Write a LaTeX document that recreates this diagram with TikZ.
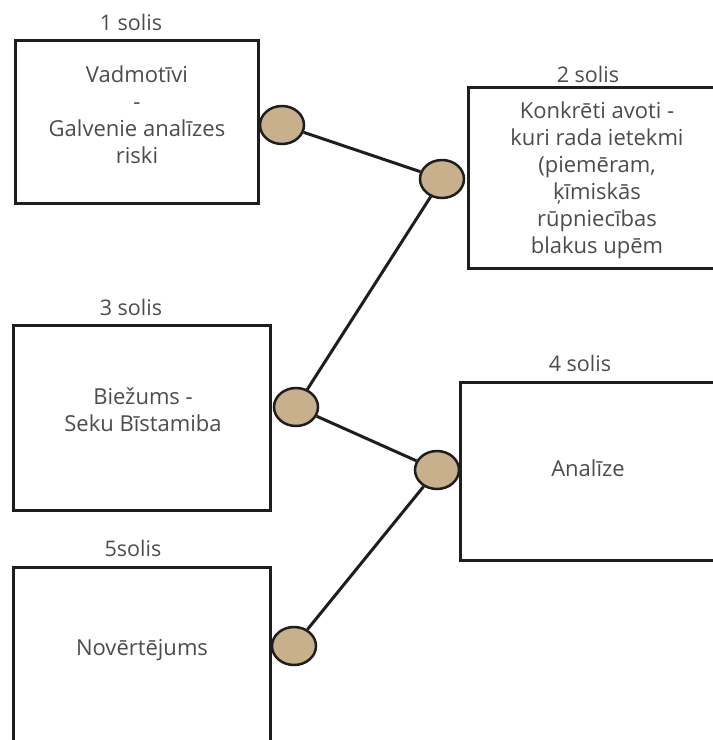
\documentclass[tikz,border=0pt]{standalone}
\usepackage{fontspec}
\setmainfont{Open Sans}
\usetikzlibrary{shapes.geometric}
\definecolor{txtgray}{HTML}{4C4C4C}
\definecolor{edge}{HTML}{1E1E1E}
\definecolor{joint}{HTML}{C8B08C}
\tikzset{
  stepbox/.style={draw=edge, line width=3pt, fill=white},
  steptext/.style={text=txtgray, align=center, inner sep=0pt,
    font=\fontsize{22}{27}\selectfont},
  steplabel/.style={text=txtgray, inner sep=0pt,
    font=\fontsize{21.5}{27}\selectfont},
  joint/.style={ellipse, draw=edge, line width=2.5pt, fill=joint,
    minimum width=44pt, minimum height=38pt, inner sep=0pt},
  link/.style={draw=edge, line width=3pt}
}
\begin{document}
\begin{tikzpicture}[x=1pt,y=-1pt]
  \useasboundingbox (0,0) rectangle (713,740);
  \clip (0,0) rectangle (713,740);
  \fill[white] (0,0) rectangle (713,740);

  % step boxes (the right-hand and bottom ones run off the page edge)
  \draw[stepbox] (15,40) rectangle (258,203);
  \draw[stepbox] (468,87) rectangle (720,268);
  \draw[stepbox] (13,325) rectangle (270,510);
  \draw[stepbox] (460,382) rectangle (720,560);
  \draw[stepbox] (13,567) rectangle (270,750);

  % step captions
  \node[steplabel] (l1) at (131,22) {1 solis};
  \node[steplabel] (l2) at (588,74) {2 solis};
  \node[steplabel] (l3) at (131,307) {3 solis};
  \node[steplabel] (l4) at (580,363) {4 solis};
  \node[steplabel] (l5) at (133,548) {5solis};

  % box contents
  \node[steptext] (t1) at (137,115) {Vadmotīvi\\-\\Galvenie analīzes\\riski};
  \node[steptext] (t2) at (597,180) {Konkrēti avoti -\\kuri rada ietekmi\\(piemēram,\\ķīmiskās\\rūpniecības\\blakus upēm};
  \node[steptext] (t3) at (143,410) {Biežums -\\Seku Bīstamiba};
  \node[steptext] (t4) at (588,468) {Analīze};
  \node[steptext] (t5) at (142,650) {Novērtējums};

  % connection joints
  \node[joint] (c1) at (282,125) {};
  \node[joint] (c2) at (442,179) {};
  \node[joint] (c3) at (296,407) {};
  \node[joint] (c4) at (437,470) {};
  \node[joint] (c5) at (294,646) {};

  % connectors between joints
  \draw[link] (c1) -- (c2);
  \draw[link] (c3) -- (c2);
  \draw[link] (c3) -- (c4);
  \draw[link] (c5) -- (c4);
\end{tikzpicture}
\end{document}
